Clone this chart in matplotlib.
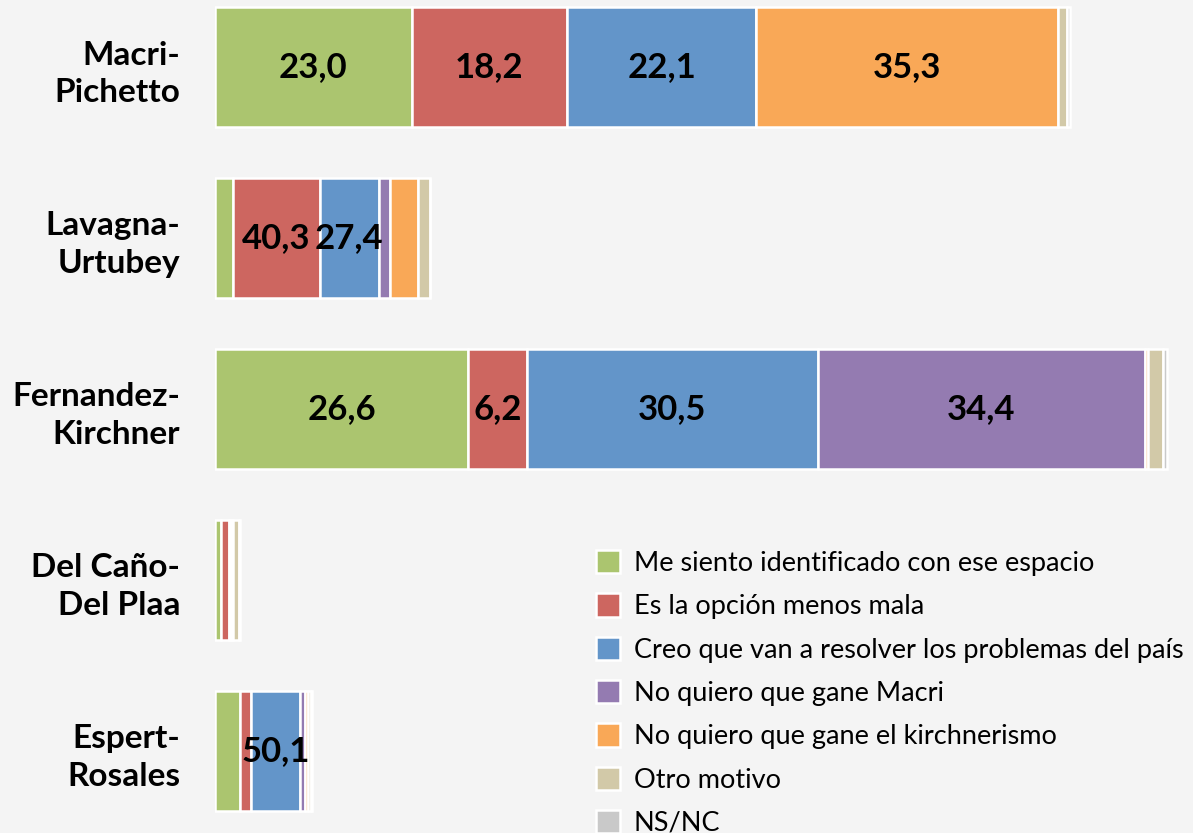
import numpy as np
import matplotlib.pyplot as plt

plt.rcParams['font.family'] = ['Lato', 'DejaVu Sans']

formulas = ['Macri-\nPichetto', 'Lavagna-\nUrtubey', 'Fernandez-\nKirchner',
            'Del Caño-\nDel Plaa', 'Espert-\nRosales']
motivos = ['Me siento identificado con ese espacio', 'Es la opción menos mala',
           'Creo que van a resolver los problemas del país', 'No quiero que gane Macri',
           'No quiero que gane el kirchnerismo', 'Otro motivo', 'NS/NC']

# % por motivo, una lista por fórmula (mismo orden que "motivos")
macri = [23.0, 18.2, 22.1, 0.0, 35.3, 1.0, 0.4]
lavagna = [8.4, 40.3, 27.4, 5.2, 13.1, 5.6, 0.0]
fernandez = [26.6, 6.2, 30.5, 34.4, 0.3, 1.6, 0.4]
del_cano = [25.0, 29.0, 6.0, 5.0, 5.0, 25.0, 5.0]
espert = [26.0, 11.5, 50.1, 5.5, 3.0, 2.5, 1.4]

# peso de cada fórmula (largo total de la barra)
peso = [85.5, 21.5, 95.2, 2.5, 9.7]

colores = ['#abc56f', '#cd6660', '#6395c9', '#947bb1', '#f9a857', '#d2c9a8', '#c9c9c9']
fondo = '#f4f4f4'

datos = np.array([macri, lavagna, fernandez, del_cano, espert])
anchos = datos * np.array(peso)[:, None] / 100

fig = plt.figure(figsize=(11.93, 8.33), dpi=100, facecolor=fondo)
ax = fig.add_axes([215 / 1193, 0, 1 - 215 / 1193, 1])
ax.set_facecolor(fondo)

y = np.arange(len(formulas))
izq = np.zeros(len(formulas))
for j, motivo in enumerate(motivos):
    bars = ax.barh(y, anchos[:, j], left=izq, height=0.70, color=colores[j],
                   edgecolor='white', linewidth=1.8, label=motivo)
    for i, b in enumerate(bars):
        pct = datos[i, j]
        if anchos[i, j] >= 4.5 or pct >= 50:
            ax.text(izq[i] + anchos[i, j] / 2, y[i], f'{pct:.1f}'.replace('.', ','),
                    ha='center', va='center', fontsize=25, fontweight='bold', color='black')
    izq += anchos[:, j]

ax.set_xlim(0, 97.8)
ax.set_ylim(4.48, -0.392)
ax.set_yticks(y)
ax.set_yticklabels(formulas, fontsize=24, fontweight='bold', linespacing=1.35)
ax.tick_params(axis='y', length=0, pad=25)
ax.set_xticks([])
for s in ax.spines.values():
    s.set_visible(False)

fig.legend(loc='upper left', bbox_to_anchor=(596 / 1193, 1 - 550 / 833),
           frameon=False, fontsize=19.5, handlelength=0.9, handleheight=0.95,
           handletextpad=0.5, labelspacing=0.64, borderaxespad=0, borderpad=0)

fig.savefig('out.png', dpi=100, facecolor=fondo)
